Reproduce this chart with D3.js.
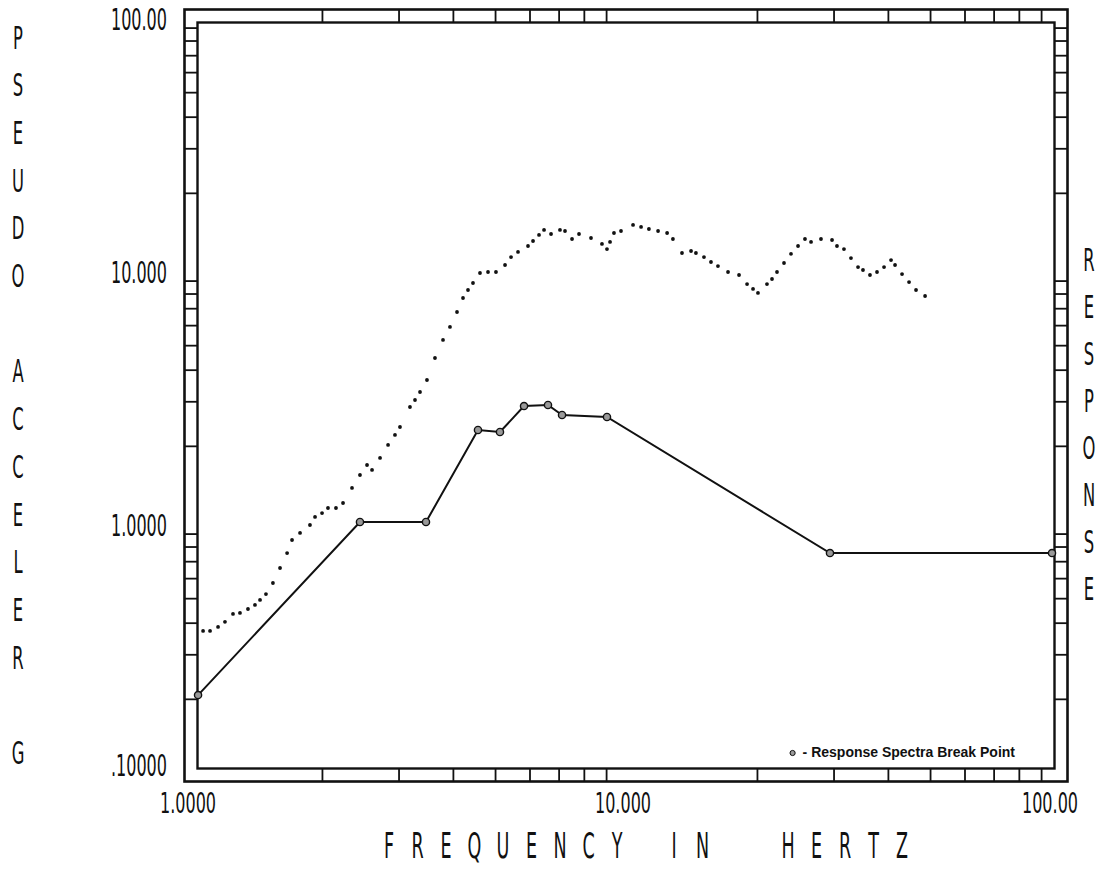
<!DOCTYPE html>
<html lang="en">
<head>
<meta charset="UTF-8">
<title>Response spectrum</title>
<script src="https://cdn.jsdelivr.net/npm/d3@7"></script>
<style>
    body{ margin:0; background:#fff; }
    svg{ display:block; }
    .plotter{ font-family:"DejaVu Sans Condensed","Liberation Sans Narrow",sans-serif; fill:#111; }
    .legend{ font-family:"Liberation Sans",Arial,sans-serif; font-weight:bold; font-size:14px; fill:#111; }
</style>
</head>
<body>
<script type="text/javascript">

    // response spectrum (dotted curve), frequency in Hz / pseudo accel in g
    let specFreq = [1.066,1.106,1.154,1.197,1.249,1.296,1.352,1.403,1.441,1.487,
        1.543,1.602,1.663,1.707,1.781,1.877,1.928,2.001,2.065,2.154,
        2.236,2.345,2.446,2.539,2.607,2.720,2.838,2.944,3.023,3.187,
        3.273,3.361,3.487,3.638,3.796,3.939,4.088,4.220,4.333,4.449,
        4.617,4.817,5.024,5.271,5.441,5.646,5.953,6.113,6.310,6.480,
        6.725,7.051,7.241,7.515,7.798,8.309,8.806,9.042,9.189,9.384,
        9.739,10.38,10.83,11.29,11.85,12.43,12.82,13.45,14.11,14.48,
        15.11,15.68,16.27,17.16,18.19,18.98,19.59,20.11,21.09,21.66,
        22.24,23.08,23.95,24.86,25.79,26.63,28.07,29.76,30.55,31.70,
        32.90,34.15,35.06,36.38,37.76,39.19,40.67,41.54,43.11,44.74,
        46.42,48.70];
    let specAccel = [.371,.371,.385,.403,.433,.437,.453,.470,.492,.519,
        .574,.658,.754,.849,.905,.973,1.047,1.085,1.136,1.136,
        1.189,1.363,1.534,1.680,1.606,1.791,2.016,2.208,2.374,2.848,
        3.035,3.265,3.641,4.448,5.242,5.900,6.761,7.681,8.260,8.805,
        9.642,9.730,9.730,10.37,11.15,11.68,12.33,12.90,13.63,14.27,
        13.75,14.27,14.13,13.14,13.75,13.26,12.56,11.99,12.79,13.88,
        14.13,14.93,14.66,14.39,14.13,13.88,13.14,11.57,11.78,11.57,
        11.15,10.66,10.27,9.73,9.47,8.72,8.34,8.04,8.72,9.13,
        9.73,10.56,11.47,12.33,13.14,12.79,13.14,13.02,12.33,11.99,
        11.05,10.18,9.91,9.47,9.73,10.18,10.85,10.37,9.55,8.88,
        8.26,7.82];

    // response spectra break points (solid line)
    let breakFreq  = [1.038, 2.446, 3.469, 4.568, 5.132, 5.829, 6.617, 7.128, 9.042, 29.44, 95.35];
    let breakAccel = [0.207, 1.0,   1.0,   2.310, 2.268, 2.873, 2.900, 2.648, 2.600, 0.754, 0.754];

    let xTicks = [1, 10, 100];
    let xTickLabels = ["1.0000", "10.000", "100.00"];
    let yTicks = [100, 10, 1, 0.1];
    let yTickLabels = ["100.00", "10.000", "1.0000", ".10000"];
    let leftTitle = "PSEUDO ACCELER G";
    let rightTitle = "RESPONSE";
    let bottomTitle = "FREQUENCY IN  HERTZ";
    let legendText = "- Response Spectra Break Point";

    let width = 1102;
    let height = 871;
    let margin = {left:191, right:41, top:16, bottom:96};
    let band = 6.5;

    let svg = d3.select("body")
        .append("svg")
        .attr("width", width)
        .attr("height", height);

    let x = d3.scaleLog()
        .domain([1, 100])
        .range([margin.left, width - margin.right]);
    let y = d3.scaleLog()
        .domain([0.1, 100])
        .range([height - margin.bottom, margin.top]);

    // minor log ticks 2..9 in every decade
    let minorX = [], minorY = [];
    [1, 10].forEach(d => { for (let k = 2; k < 10; k++) minorX.push(k * d); });
    [0.1, 1, 10].forEach(d => { for (let k = 2; k < 10; k++) minorY.push(+(k * d).toFixed(3)); });

    let x0 = x(1), x1 = x(100), y0 = y(0.1), y1 = y(100);

    // double frame
    let frame = svg.append("g").attr("fill", "none").attr("stroke", "#111");
    frame.append("rect")
        .attr("x", x0 - band).attr("y", y1 - band)
        .attr("width", x1 - x0 + 2 * band).attr("height", y0 - y1 + 2 * band)
        .attr("stroke-width", 2.6);
    frame.append("rect")
        .attr("x", x0 + band).attr("y", y1 + band)
        .attr("width", x1 - x0 - 2 * band).attr("height", y0 - y1 - 2 * band)
        .attr("stroke-width", 2.4);

    // band ticks through axis generators
    function bandAxis(axis, tx, ty) {
        let g = svg.append("g")
            .attr("transform", `translate(${tx},${ty})`)
            .call(axis.tickSize(2 * band).tickFormat(""));
        g.select(".domain").remove();
        g.selectAll(".tick line").attr("stroke", "#111").attr("stroke-width", 1.8);
    }
    bandAxis(d3.axisBottom(x).tickValues(minorX), 0, y1 - band);
    bandAxis(d3.axisBottom(x).tickValues(minorX), 0, y0 - band);
    bandAxis(d3.axisRight(y).tickValues(minorY), x0 - band, 0);
    bandAxis(d3.axisRight(y).tickValues(minorY), x1 - band, 0);

    // tick labels, narrow plotter style
    svg.append("g").selectAll("text")
        .data(yTicks)
        .join("text")
        .attr("class", "plotter")
        .attr("transform", d => `translate(${x0 - 24},${Math.min(y(d) + 5, y0 - 8)}) scale(0.66,1.12)`)
        .attr("text-anchor", "end")
        .attr("dominant-baseline", "middle")
        .attr("font-size", 27)
        .text((d, i) => yTickLabels[i]);

    svg.append("g").selectAll("text")
        .data(xTicks)
        .join("text")
        .attr("class", "plotter")
        .attr("transform", d => `translate(${Math.min(x(d) - 3, width - 52)},${y0 + 30}) scale(0.66,1.08)`)
        .attr("text-anchor", "middle")
        .attr("dominant-baseline", "middle")
        .attr("font-size", 27)
        .text((d, i) => xTickLabels[i]);

    // titles, one plotter letter per cell, squeezed like a pen plotter font
    function letters(str, px, py, dx, dy, size, sx, sy) {
        svg.append("g").selectAll("text")
            .data(str.split(""))
            .join("text")
            .attr("class", "plotter")
            .attr("transform", (d, i) => `translate(${px + i * dx},${py + i * dy}) scale(${sx},${sy})`)
            .attr("text-anchor", "middle")
            .attr("dominant-baseline", "middle")
            .attr("font-size", size)
            .text(d => d);
    }
    letters(leftTitle, 18, 40, 0, 47.7, 26, 0.7, 1.2);
    letters(rightTitle, 1089, 262, 0, 47.1, 26, 0.7, 1.2);
    letters(bottomTitle, 389, 848, 28.5, 0, 30, 0.65, 1.18);

    // response spectrum dots
    let spec = d3.zip(specFreq, specAccel);
    svg.append("g").selectAll("circle")
        .data(spec)
        .join("circle")
        .attr("cx", d => x(d[0]))
        .attr("cy", d => y(d[1]))
        .attr("r", 1.9)
        .attr("fill", "#111");

    // break point line
    let brk = d3.zip(breakFreq, breakAccel);
    let line = d3.line()
        .x(d => x(d[0]))
        .y(d => y(d[1]));
    svg.append("path")
        .datum(brk)
        .attr("fill", "none")
        .attr("stroke", "#111")
        .attr("stroke-width", 2)
        .attr("d", line);
    svg.append("g").selectAll("circle")
        .data(brk)
        .join("circle")
        .attr("cx", d => x(d[0]))
        .attr("cy", d => y(d[1]))
        .attr("r", 3.6)
        .attr("fill", "#999")
        .attr("stroke", "#111")
        .attr("stroke-width", 1.4);

    // legend: marker, then text ending near the right frame
    let leg = svg.append("g").attr("transform", `translate(${x1 - 46},${y0 - 22})`);
    let legLabel = leg.append("text")
        .attr("class", "legend")
        .attr("x", 0)
        .attr("y", 0)
        .attr("text-anchor", "end")
        .attr("dominant-baseline", "middle")
        .text(legendText);
    let legW = legLabel.node().getComputedTextLength();
    leg.append("circle")
        .attr("cx", -legW - 10)
        .attr("cy", 0)
        .attr("r", 2.6)
        .attr("fill", "#999")
        .attr("stroke", "#111")
        .attr("stroke-width", 1);
</script>
</body>
</html>
